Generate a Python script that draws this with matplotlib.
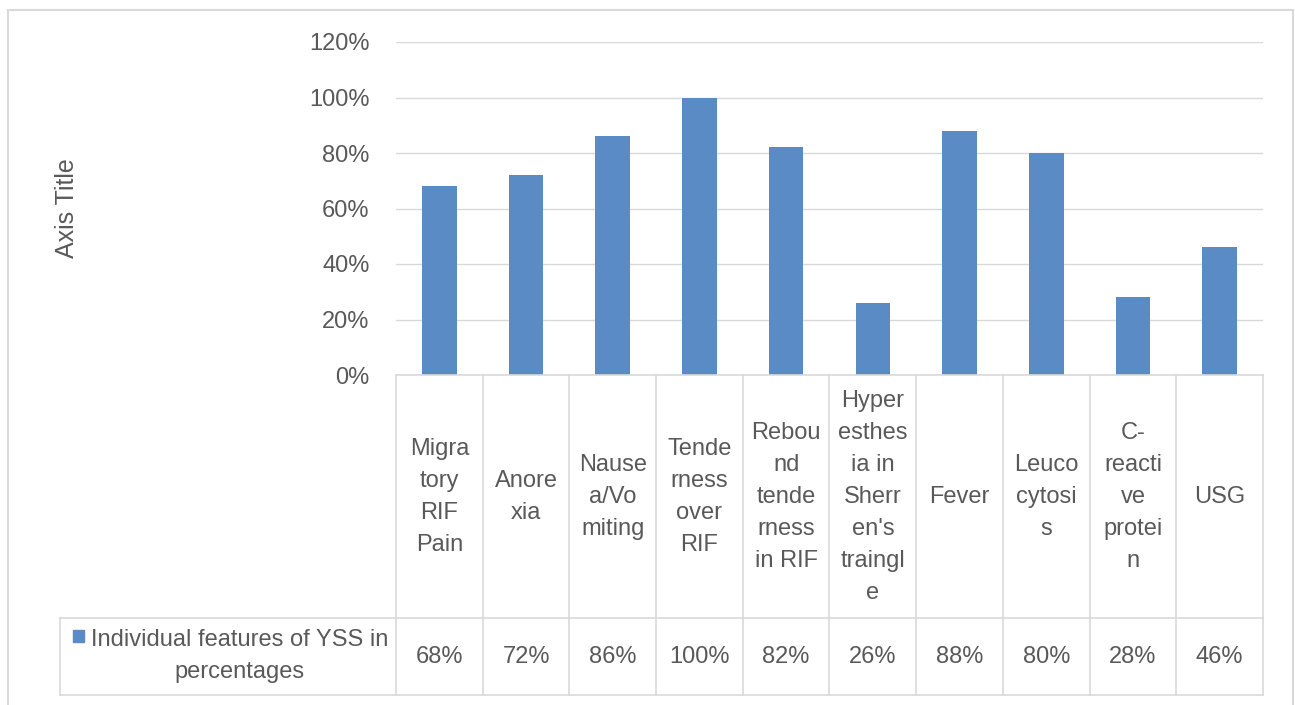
#!/usr/bin/env python3
# -*- coding: utf-8 -*-
"""Column chart of YSS features with an Excel-style data table underneath."""

import matplotlib
matplotlib.use("Agg")
import matplotlib.pyplot as plt  # noqa: E402
from matplotlib.patches import Rectangle  # noqa: E402
from matplotlib.ticker import PercentFormatter  # noqa: E402

plt.rcParams["font.family"] = ["Liberation Sans", "DejaVu Sans"]

CATEGORIES = [
    "Migra\ntory\nRIF\nPain",
    "Anore\nxia",
    "Nause\na/Vo\nmiting",
    "Tende\nrness\nover\nRIF",
    "Rebou\nnd\ntende\nrness\nin RIF",
    "Hyper\nesthes\nia in\nSherr\nen's\ntraingl\ne",
    "Fever",
    "Leuco\ncytosi\ns",
    "C-\nreacti\nve\nprotei\nn",
    "USG",
]
VALUES = [0.68, 0.72, 0.86, 1.00, 0.82, 0.26, 0.88, 0.80, 0.28, 0.46]
VALUE_LABELS = ["68%", "72%", "86%", "100%", "82%", "26%", "88%", "80%", "28%", "46%"]
SERIES = "Individual features of YSS in\npercentages"
YTICKS = [0, 0.2, 0.4, 0.6, 0.8, 1.0, 1.2]

BAR = "#5B8BC5"
TXT = "#595959"
GRID = "#D9D9D9"
FS = 17
LSP = 1.58

W, H = 1295, 705


def rect(l, t, r, b):
    # pixel box -> figure fraction
    return [l / W, 1 - b / H, (r - l) / W, (b - t) / H]


fig = plt.figure(figsize=(W / 100, H / 100), dpi=100)

# outer chart frame
fig.patches.append(Rectangle((8 / W, -0.02), (1293 - 8) / W, 1 - 10 / H + 0.02,
                             transform=fig.transFigure, fill=False,
                             edgecolor=GRID, lw=1.5))

n = len(VALUES)
ax = fig.add_axes(rect(396, 42, 1263, 375))
ax.bar(range(n), VALUES, width=0.4, color=BAR, zorder=3)
ax.set_xlim(-0.5, n - 0.5)
ax.set_ylim(0, 1.2)
ax.set_yticks(YTICKS)
ax.yaxis.set_major_formatter(PercentFormatter(1.0, decimals=0))
ax.grid(axis="y", color=GRID, lw=1.0, zorder=0)
ax.tick_params(axis="y", length=0, pad=19, labelsize=FS, labelcolor=TXT)
ax.tick_params(axis="x", length=0, labelbottom=False)
for s in ax.spines.values():
    s.set_visible(False)
fig.text(67 / W, 1 - 208 / H, "Axis Title", rotation=90, ha="center", va="center",
         fontsize=FS + 1, color=TXT)

# data table under the plot, sharing the category positions
tab = fig.add_axes(rect(396, 375, 1263, 695), sharex=ax)
tab.set_ylim(320, 0)
tab.axis("off")
row = 243
colw = (1263 - 396) / n
left = -0.5 + (60 - 396) / colw
for i in range(n + 1):
    tab.plot([i - 0.5, i - 0.5], [0, 320], color=GRID, lw=1.2, clip_on=False)
tab.plot([left, n - 0.5], [row, row], color=GRID, lw=1.2, clip_on=False)
tab.plot([left, n - 0.5], [320, 320], color=GRID, lw=1.2, clip_on=False)
tab.plot([left, left], [row, 320], color=GRID, lw=1.2, clip_on=False)
tab.plot([-0.5, n - 0.5], [0, 0], color=GRID, lw=1.2, clip_on=False)

for i, (c, v) in enumerate(zip(CATEGORIES, VALUE_LABELS)):
    tab.text(i, 122, c, ha="center", va="center", fontsize=FS, color=TXT,
             linespacing=LSP, clip_on=False)
    tab.text(i, 282, v, ha="center", va="center", fontsize=FS, color=TXT)

# legend key in the first column of the value row
tab.add_patch(Rectangle((-0.5 + (73 - 396) / colw, 255), 11 / colw, 12,
                        color=BAR, clip_on=False))
tab.text(-0.5 + (240 - 396) / colw, 281, SERIES, ha="center", va="center",
         fontsize=FS, color=TXT, linespacing=LSP, clip_on=False)

fig.savefig("out.png", dpi=100)
